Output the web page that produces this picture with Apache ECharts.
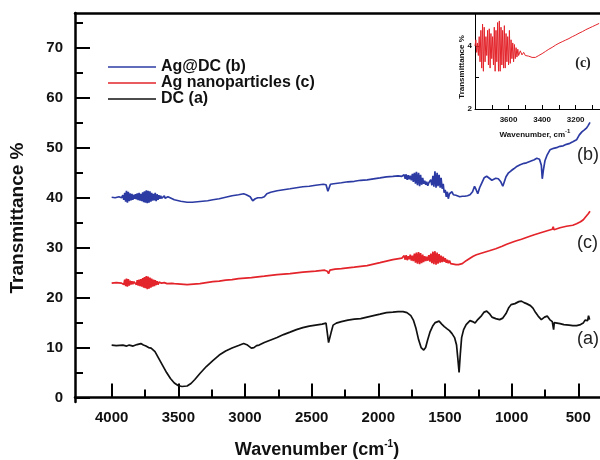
<!DOCTYPE html>
<html>
<head>
<meta charset="utf-8">
<title>FTIR - Ag@DC / Ag nanoparticles / DC</title>
<script src="https://cdn.jsdelivr.net/npm/echarts@6/dist/echarts.min.js"></script>
<style>
  html, body { margin: 0; padding: 0; background: #fff; }
  #main { width: 600px; height: 460px; }
</style>
</head>
<body>
<div id="main"></div>
<script>
// tick values
var xMajor = [4000, 3500, 3000, 2500, 2000, 1500, 1000, 500];
var xMinor = [3750, 3250, 2750, 2250, 1750, 1250, 750];
var yMajor = [0, 10, 20, 30, 40, 50, 60, 70];
var yMinor = [5, 15, 25, 35, 45, 55, 65, 75];
var insetXTicks = [3700, 3600, 3500, 3400, 3300, 3200, 3100];
var insetXLabels = [3600, 3400, 3200];
var insetYTicks = [2, 3, 4];
var insetYLabels = [2, 4];

var seriesNames = ['Ag@DC (b)', 'Ag nanoparticles (c)', 'DC (a)'];

// Ag@DC (b)  [wavenumber, transmittance]
var agdcData = [
  [4000,40.1],[3974,40.0],[3945,40.2],[3926,40.0],
  [3916,40.5],[3909,39.6],[3902,41.0],[3895,39.2],[3889,41.4],[3882,39.0],[3875,41.2],[3868,39.3],
  [3862,40.9],[3855,39.5],[3848,40.8],[3841,39.6],[3835,40.6],[3828,39.8],[3821,40.7],[3814,39.7],
  [3808,40.9],[3801,39.5],[3794,41.0],[3787,39.4],[3781,40.8],[3774,39.3],[3767,41.1],[3760,39.1],
  [3754,41.3],[3747,39.0],[3740,41.5],[3733,38.9],[3727,41.4],[3720,39.0],[3713,41.3],[3706,39.2],
  [3700,41.0],[3693,39.4],[3686,40.8],[3679,39.5],[3673,41.0],[3666,39.3],[3659,40.7],[3652,39.6],
  [3646,40.5],[3639,39.8],[3632,40.4],[3626,39.9],[3619,40.3],[3612,39.9],[3605,40.4],[3599,39.9],
  [3592,40.3],[3585,40.0],[3578,40.2],[3572,40.0],[3565,40.1],
  [3530,39.6],[3482,39.3],[3434,39.1],[3395,39.1],[3357,39.2],[3318,39.3],[3280,39.4],[3241,39.6],
  [3193,39.8],[3145,40.1],[3097,40.4],[3048,40.6],[3010,40.8],[2990,40.6],[2961,40.2],[2942,39.4],
  [2923,39.8],[2904,40.0],[2875,40.0],[2855,40.2],[2836,40.8],[2807,41.1],[2759,41.4],[2711,41.6],
  [2662,41.8],[2614,42.0],[2566,42.2],[2518,42.3],[2470,42.5],[2412,42.7],[2392,42.6],[2378,41.3],
  [2368,41.6],[2359,42.7],[2335,42.8],[2277,43.0],[2228,43.2],[2180,43.3],[2132,43.5],[2084,43.6],
  [2036,43.8],[1987,44.0],[1939,44.2],[1891,44.3],[1852,44.4],[1823,44.3],
  [1814,44.0],[1806,44.6],[1798,43.8],[1791,44.7],[1783,43.6],[1775,44.5],[1768,43.7],[1760,44.4],
  [1752,43.5],[1744,44.8],[1737,43.2],[1729,45.0],[1721,42.8],[1714,45.2],[1706,42.5],[1698,45.0],
  [1690,42.3],[1683,44.6],[1675,42.6],[1667,44.0],[1660,42.8],[1652,43.4],[1644,42.6],[1637,43.2],
  [1629,42.4],[1621,43.0],[1613,42.6],[1606,43.6],[1598,42.5],[1590,44.4],[1583,42.2],[1575,45.3],
  [1567,42.0],[1559,45.0],[1552,42.3],[1544,44.6],[1536,42.0],[1529,44.0],[1521,41.8],[1513,42.8],
  [1506,41.0],[1498,41.6],[1490,40.2],[1482,41.2],[1475,39.8],
  [1466,40.8],[1457,40.6],[1447,41.2],[1437,40.6],[1428,40.3],[1418,40.5],[1409,40.4],[1389,40.2],
  [1370,40.3],[1351,40.3],[1331,40.4],[1312,40.6],[1293,41.2],[1278,42.3],[1269,41.8],[1254,40.8],
  [1240,42.0],[1225,42.9],[1206,44.0],[1187,44.3],[1167,43.9],[1148,43.5],[1119,43.9],[1100,43.8],
  [1081,43.2],[1066,42.3],[1057,42.6],[1042,44.2],[1023,45.0],[1004,45.4],[984,45.8],[965,46.2],
  [936,46.6],[907,46.9],[888,47.0],[859,47.3],[830,47.6],[811,47.9],[791,47.7],[777,46.5],
  [770,43.8],[762,45.5],[750,47.4],[733,48.6],[712,49.6],[685,49.9],[656,50.1],[637,50.3],
  [613,50.4],[589,50.7],[563,50.9],[541,51.2],[513,51.6],[492,52.6],[473,53.2],[454,53.6],
  [437,54.0],[425,54.5],[412,55.1]
];

// Ag nanoparticles (c)
var agnpData = [
  [4000,22.9],[3965,23.0],[3926,22.9],
  [3916,23.2],[3909,22.6],[3902,23.6],[3895,22.3],[3889,23.8],[3882,22.2],[3875,23.7],[3868,22.4],
  [3862,23.4],[3855,22.6],[3848,23.3],[3841,22.7],[3835,23.2],[3828,22.8],[3821,23.3],[3814,22.6],
  [3808,23.5],[3801,22.4],[3794,23.6],[3787,22.3],[3781,23.7],[3774,22.2],[3767,23.9],[3760,22.0],
  [3754,24.1],[3747,21.9],[3740,24.3],[3733,21.7],[3727,24.2],[3720,21.8],[3713,24.0],[3706,22.0],
  [3700,23.8],[3693,22.2],[3686,23.6],[3679,22.3],[3673,23.5],[3666,22.5],[3659,23.3],[3652,22.6],
  [3646,23.1],[3639,22.8],[3632,23.0],[3626,22.9],[3619,23.1],[3612,22.7],[3605,23.0],[3599,22.8],
  [3592,23.0],[3585,22.8],[3578,22.9],
  [3550,22.85],[3530,22.8],[3482,22.7],[3434,22.6],[3386,22.7],[3338,22.8],[3290,23.0],[3241,23.2],
  [3193,23.3],[3145,23.5],[3097,23.6],[3048,23.8],[2952,24.0],[2855,24.3],[2759,24.6],[2662,24.8],
  [2566,25.1],[2470,25.3],[2402,25.5],[2383,25.3],[2373,24.8],[2363,25.5],[2325,25.7],[2277,25.8],
  [2180,26.1],[2084,26.4],[1987,27.0],[1891,27.6],[1823,27.9],
  [1814,27.9],[1806,28.4],[1798,27.6],[1791,28.5],[1783,27.5],[1775,28.3],[1768,27.7],[1760,28.6],
  [1752,27.4],[1744,28.4],[1737,27.3],[1729,28.8],[1721,27.0],[1714,29.0],[1706,26.8],[1698,29.1],
  [1690,26.7],[1683,28.9],[1675,26.9],[1667,28.6],[1660,27.1],[1652,28.3],[1644,27.3],[1637,28.2],
  [1629,27.4],[1621,28.5],[1613,27.2],[1606,28.8],[1598,26.9],[1590,29.2],[1583,26.7],[1575,29.3],
  [1567,26.6],[1559,29.0],[1552,26.8],[1544,28.7],[1536,27.0],[1529,28.4],[1521,27.1],[1513,28.2],
  [1506,27.2],[1498,27.9],[1490,27.0],[1482,27.6],[1475,26.9],
  [1466,27.4],[1457,26.8],[1447,27.2],[1437,26.7],[1428,27.0],[1418,26.6],[1409,26.7],[1399,26.6],
  [1387,26.3],[1370,26.8],[1341,27.4],[1312,27.9],[1288,28.3],[1264,28.6],[1216,29.0],[1167,29.4],
  [1119,29.8],[1071,30.3],[1037,30.7],[975,31.3],[926,31.7],[863,32.3],[830,32.6],[782,33.0],
  [733,33.4],[695,33.7],[688,34.2],[682,33.6],[637,34.0],[589,34.3],[541,34.5],[513,34.8],
  [483,35.2],[462,35.6],[444,36.2],[425,36.8],[412,37.3]
];

// DC (a)
var dcData = [
  [4000,10.5],[3965,10.4],[3916,10.5],[3887,10.3],[3868,10.5],[3839,10.3],[3810,10.6],[3781,10.8],
  [3762,10.5],[3743,10.3],[3723,10.0],[3704,9.9],[3675,9.2],[3646,7.8],[3617,6.4],[3588,5.0],
  [3559,3.8],[3530,2.9],[3502,2.4],[3473,2.2],[3434,2.3],[3405,2.8],[3376,3.6],[3338,4.8],
  [3290,6.2],[3241,7.4],[3193,8.5],[3145,9.3],[3097,9.9],[3048,10.4],[3010,10.8],[2981,10.5],
  [2952,9.9],[2933,10.0],[2913,10.4],[2894,10.5],[2855,11.0],[2807,11.5],[2759,12.0],[2711,12.6],
  [2662,13.1],[2614,13.6],[2566,14.0],[2518,14.3],[2470,14.5],[2421,14.7],[2392,14.9],[2383,14.5],
  [2373,11.0],[2363,11.3],[2354,13.0],[2339,14.5],[2315,14.9],[2277,15.2],[2228,15.5],[2180,15.7],
  [2132,15.8],[2084,16.1],[2036,16.4],[1987,16.7],[1939,17.0],[1891,17.1],[1852,17.2],[1814,17.2],
  [1785,17.0],[1756,16.4],[1737,15.5],[1717,13.8],[1698,11.6],[1679,10.0],[1659,9.5],[1645,10.0],
  [1630,11.5],[1611,13.2],[1592,14.3],[1573,15.0],[1558,15.4],[1544,15.3],[1524,14.7],[1505,14.2],
  [1486,13.8],[1466,13.4],[1447,12.8],[1428,12.0],[1413,10.5],[1404,8.0],[1394,5.0],[1384,9.0],
  [1375,12.0],[1360,13.6],[1341,14.6],[1312,15.4],[1293,15.2],[1274,14.9],[1254,15.6],[1225,16.4],
  [1206,17.1],[1187,17.3],[1167,16.8],[1148,16.1],[1119,15.8],[1090,15.6],[1066,15.9],[1042,16.8],
  [1023,17.9],[1004,18.6],[975,18.8],[946,19.2],[926,19.3],[907,19.0],[888,18.8],[859,18.4],
  [840,17.9],[820,17.0],[801,16.3],[777,15.6],[753,16.1],[733,16.3],[714,15.6],[695,15.2],
  [685,13.6],[680,15.0],[666,15.3],[637,14.8],[608,14.6],[569,14.5],[541,14.4],[512,14.4],
  [483,14.6],[463,14.9],[449,15.5],[439,15.9],[430,15.4],[423,16.4],[415,15.6]
];

// inset: Ag nanoparticles (c), 3800-3060 cm-1
var insetData = [
  [3800,4.0],[3795,4.2],[3790,3.8],[3785,4.1],[3780,3.7],[3775,4.3],[3770,3.5],[3765,4.5],
  [3760,3.3],[3755,4.7],[3750,3.2],[3745,4.6],[3740,3.5],[3735,4.3],[3730,3.7],[3725,4.5],
  [3720,3.4],[3715,4.55],[3710,3.3],[3705,4.4],[3700,3.6],[3695,4.3],[3690,3.4],[3685,4.6],
  [3680,3.2],[3675,4.5],[3670,3.5],[3665,4.75],[3660,3.2],[3655,4.8],[3650,3.2],[3645,4.6],
  [3640,3.4],[3635,4.5],[3630,3.3],[3625,4.65],[3620,3.3],[3615,4.4],[3610,3.5],[3605,4.3],
  [3600,3.4],[3595,4.5],[3590,3.45],[3585,4.2],[3580,3.6],[3575,4.1],[3570,3.5],[3565,4.05],
  [3560,3.6],[3555,3.95],[3550,3.65],[3545,3.9],[3540,3.7],[3530,3.85],[3520,3.72],[3510,3.8],
  [3500,3.7],[3490,3.75],[3480,3.68],[3470,3.7],[3460,3.64],[3450,3.63],[3440,3.64],[3420,3.7],
  [3400,3.76],[3380,3.83],[3360,3.9],[3340,3.96],[3320,4.03],[3300,4.09],[3280,4.14],[3260,4.19],
  [3240,4.24],[3220,4.3],[3200,4.35],[3180,4.41],[3160,4.46],[3140,4.52],[3120,4.57],[3100,4.62],
  [3080,4.67],[3060,4.72]
];

var FONT = '"Liberation Sans", Arial, sans-serif';
var BLUE = '#2c3ba3', RED = '#e3242b', BLACK = '#111';

function plain(v) { return String(v); }

var chart = echarts.init(document.getElementById('main'));

var option = {
  animation: false,
  backgroundColor: '#fff',
  grid: [
    { left: 75, right: 0, top: 13, bottom: 58 },
    { left: 475, right: 0, top: 14, height: 95, show: true, backgroundColor: '#fff', borderWidth: 0 }
  ],
  legend: {
    data: seriesNames,
    orient: 'vertical',
    left: 108, top: 59, padding: 0,
    itemWidth: 48, itemHeight: 16, itemGap: 0,
    icon: 'path://M0,0H48V1.6H0Z',
    textStyle: { fontFamily: FONT, fontSize: 16, fontWeight: 'bold', color: BLACK }
  },
  xAxis: [
    { // main bottom axis
      gridIndex: 0, type: 'value', position: 'bottom', min: 337, max: 4275, inverse: true,
      axisLine: { lineStyle: { color: '#000', width: 2.5 } },
      axisTick: { inside: true, length: 14, customValues: xMajor, lineStyle: { color: '#000', width: 2 } },
      axisLabel: { customValues: xMajor, formatter: plain, margin: 8, color: BLACK, fontFamily: FONT, fontSize: 15, fontWeight: 'bold' },
      splitLine: { show: false }
    },
    { // minor ticks
      gridIndex: 0, type: 'value', position: 'bottom', min: 337, max: 4275, inverse: true,
      axisLine: { show: false },
      axisTick: { inside: true, length: 8, customValues: xMinor, lineStyle: { color: '#000', width: 2 } },
      axisLabel: { show: false },
      splitLine: { show: false }
    },
    { // top frame
      gridIndex: 0, type: 'value', position: 'top', min: 337, max: 4275, inverse: true,
      axisLine: { lineStyle: { color: '#000', width: 2.5 } },
      axisTick: { show: false }, axisLabel: { show: false }, splitLine: { show: false }
    },
    { // inset
      gridIndex: 1, type: 'value', position: 'bottom', min: 3055, max: 3800, inverse: true,
      axisLine: { lineStyle: { color: '#000', width: 1 } },
      axisTick: { inside: true, length: 4, customValues: insetXTicks, lineStyle: { color: '#000', width: 1 } },
      axisLabel: { customValues: insetXLabels, formatter: plain, margin: 7, color: BLACK, fontFamily: FONT, fontSize: 8, fontWeight: 'bold' },
      splitLine: { show: false }
    }
  ],
  yAxis: [
    {
      gridIndex: 0, type: 'value', position: 'left', min: -0.9, max: 77,
      axisLine: { lineStyle: { color: '#000', width: 2.5 } },
      axisTick: { inside: true, length: 15, customValues: yMajor, lineStyle: { color: '#000', width: 2 } },
      axisLabel: { customValues: yMajor, formatter: plain, margin: 12, color: BLACK, fontFamily: FONT, fontSize: 15, fontWeight: 'bold' },
      splitLine: { show: false }
    },
    {
      gridIndex: 0, type: 'value', position: 'left', min: -0.9, max: 77,
      axisLine: { show: false },
      axisTick: { inside: true, length: 8, customValues: yMinor, lineStyle: { color: '#000', width: 2 } },
      axisLabel: { show: false },
      splitLine: { show: false }
    },
    {
      gridIndex: 1, type: 'value', position: 'left', min: 2, max: 5.02,
      axisLine: { lineStyle: { color: '#000', width: 1 } },
      axisTick: { inside: true, length: 4, customValues: insetYTicks, lineStyle: { color: '#000', width: 1 } },
      axisLabel: { customValues: insetYLabels, formatter: plain, margin: 3, color: BLACK, fontFamily: FONT, fontSize: 8, fontWeight: 'bold' },
      splitLine: { show: false }
    }
  ],
  series: [
    { name: seriesNames[0], type: 'line', xAxisIndex: 0, yAxisIndex: 0, data: agdcData,
      symbol: 'none', color: BLUE, lineStyle: { width: 1.7, color: BLUE } },
    { name: seriesNames[1], type: 'line', xAxisIndex: 0, yAxisIndex: 0, data: agnpData,
      symbol: 'none', color: RED, lineStyle: { width: 1.7, color: RED } },
    { name: seriesNames[2], type: 'line', xAxisIndex: 0, yAxisIndex: 0, data: dcData,
      symbol: 'none', color: BLACK, lineStyle: { width: 1.7, color: BLACK } },
    { name: 'inset', type: 'line', xAxisIndex: 3, yAxisIndex: 2, data: insetData,
      symbol: 'none', color: RED, lineStyle: { width: 1, color: RED } }
  ],
  graphic: [
    // axis titles
    { type: 'text', x: 18, y: 218, rotation: Math.PI / 2,
      style: { text: 'Transmittance %', font: 'bold 19px ' + FONT, fill: BLACK, textAlign: 'center', textVerticalAlign: 'middle' } },
    { type: 'text', x: 317, y: 450,
      style: {
        text: '{a|Wavenumber (cm}{s|-1}{a|)}', fill: BLACK, textAlign: 'center', textVerticalAlign: 'middle',
        rich: {
          a: { fontFamily: FONT, fontSize: 18, fontWeight: 'bold', color: BLACK },
          s: { fontFamily: FONT, fontSize: 10, fontWeight: 'bold', color: BLACK, padding: [0, 0, 12, 0] }
        }
      } },
    // inset titles
    { type: 'text', x: 462, y: 67, rotation: Math.PI / 2,
      style: { text: 'Transmittance %', font: 'bold 8px ' + FONT, fill: BLACK, textAlign: 'center', textVerticalAlign: 'middle' } },
    { type: 'text', x: 535, y: 135,
      style: {
        text: '{a|Wavenumber, cm}{s|-1}', fill: BLACK, textAlign: 'center', textVerticalAlign: 'middle',
        rich: {
          a: { fontFamily: FONT, fontSize: 8, fontWeight: 'bold', color: BLACK },
          s: { fontFamily: FONT, fontSize: 6, fontWeight: 'bold', color: BLACK, padding: [0, 0, 7, 0] }
        }
      } },
    { type: 'text', x: 583, y: 63, z: 100,
      style: { text: '(c)', font: 'bold 14px "Liberation Serif", serif', fill: '#222', textAlign: 'center', textVerticalAlign: 'middle' } },
    // curve tags
    { type: 'text', x: 577, y: 155,
      style: { text: '(b)', font: '18px ' + FONT, fill: '#222', textAlign: 'left', textVerticalAlign: 'middle' } },
    { type: 'text', x: 577, y: 243,
      style: { text: '(c)', font: '18px ' + FONT, fill: '#222', textAlign: 'left', textVerticalAlign: 'middle' } },
    { type: 'text', x: 577, y: 339,
      style: { text: '(a)', font: '18px ' + FONT, fill: '#222', textAlign: 'left', textVerticalAlign: 'middle' } }
  ]
};

chart.setOption(option);
</script>
</body>
</html>
